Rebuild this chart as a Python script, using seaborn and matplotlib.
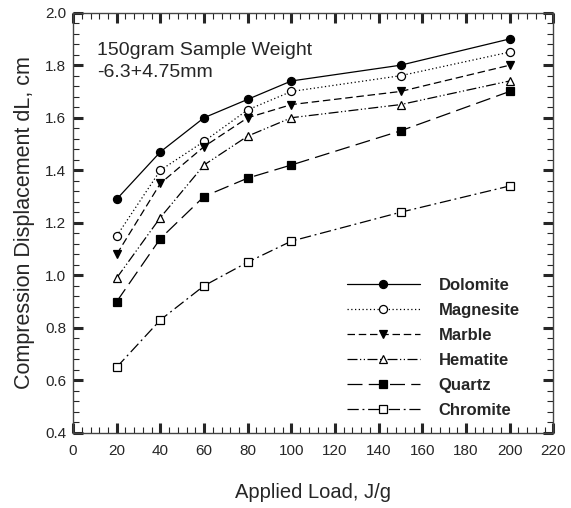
import pandas as pd
import seaborn as sns
import matplotlib.pyplot as plt
from matplotlib.ticker import MultipleLocator, FormatStrFormatter

load = [20, 40, 60, 80, 100, 150, 200]
minerals = ["Dolomite", "Magnesite", "Marble", "Hematite", "Quartz", "Chromite"]
dolomite = [1.29, 1.47, 1.60, 1.67, 1.74, 1.80, 1.90]
magnesite = [1.15, 1.40, 1.51, 1.63, 1.70, 1.76, 1.85]
marble = [1.08, 1.35, 1.49, 1.60, 1.65, 1.70, 1.80]
hematite = [0.99, 1.22, 1.42, 1.53, 1.60, 1.65, 1.74]
quartz = [0.90, 1.14, 1.30, 1.37, 1.42, 1.55, 1.70]
chromite = [0.65, 0.83, 0.96, 1.05, 1.13, 1.24, 1.34]

values = [dolomite, magnesite, marble, hematite, quartz, chromite]
rows = []
for m, vals in zip(minerals, values):
    for x, y in zip(load, vals):
        rows.append({"mineral": m, "load": x, "dL": y})
df = pd.DataFrame(rows)

# marker, face colour, line style per mineral
styles = {
    "Dolomite": ("o", "black", "-"),
    "Magnesite": ("o", "white", (0, (1, 2))),
    "Marble": ("v", "black", (0, (6, 3))),
    "Hematite": ("^", "white", (0, (8, 2, 1, 2, 1, 2))),
    "Quartz": ("s", "black", (0, (12, 5))),
    "Chromite": ("s", "white", (0, (9, 3, 1.5, 3))),
}

sns.set_style("ticks")
plt.rcParams["font.family"] = ["Liberation Sans", "DejaVu Sans"]

fig = plt.figure(figsize=(5.71, 5.08), dpi=100)
ax = fig.add_axes([0.128, 0.148, 0.841, 0.827])

for m in minerals:
    mk, fc, ls = styles[m]
    sns.lineplot(data=df[df["mineral"] == m], x="load", y="dL", ax=ax,
                 color="black", linewidth=0.9, linestyle=ls, marker=mk,
                 markersize=6.2 if mk in "^v" else (5.8 if mk == "o" else 5.5),
                 markerfacecolor=fc, markeredgecolor="black",
                 markeredgewidth=0.9, label=m)

ax.set_xlim(0, 220)
ax.set_ylim(0.4, 2.0)
ax.xaxis.set_major_locator(MultipleLocator(20))
ax.xaxis.set_minor_locator(MultipleLocator(4))
ax.yaxis.set_major_locator(MultipleLocator(0.2))
ax.yaxis.set_minor_locator(MultipleLocator(0.04))
ax.yaxis.set_major_formatter(FormatStrFormatter("%.1f"))
ax.tick_params(which="both", direction="in", top=True, right=True, labelsize=11)
ax.tick_params(axis="x", which="major", pad=8)
ax.tick_params(axis="y", which="major", pad=5)
ax.tick_params(which="major", length=7, width=2.2)
ax.tick_params(which="minor", length=4, width=0.8)
for s in ax.spines.values():
    s.set_linewidth(1.0)
    s.set_color("#444444")

ax.set_xlabel("Applied Load, J/g", fontsize=14.5, labelpad=18)
ax.set_ylabel("Compression Displacement dL, cm", fontsize=15.5, labelpad=7)

ax.text(0.05, 0.93, "150gram Sample Weight\n-6.3+4.75mm", transform=ax.transAxes,
        fontsize=14, va="top", ha="left", linespacing=1.35)

leg = ax.legend(loc="lower left", bbox_to_anchor=(0.556, 0.02), frameon=False,
                handlelength=4.4, handletextpad=1.1, labelspacing=0.6,
                borderaxespad=0, prop={"weight": "bold", "size": 12})

fig.savefig("out.png", dpi=100)
